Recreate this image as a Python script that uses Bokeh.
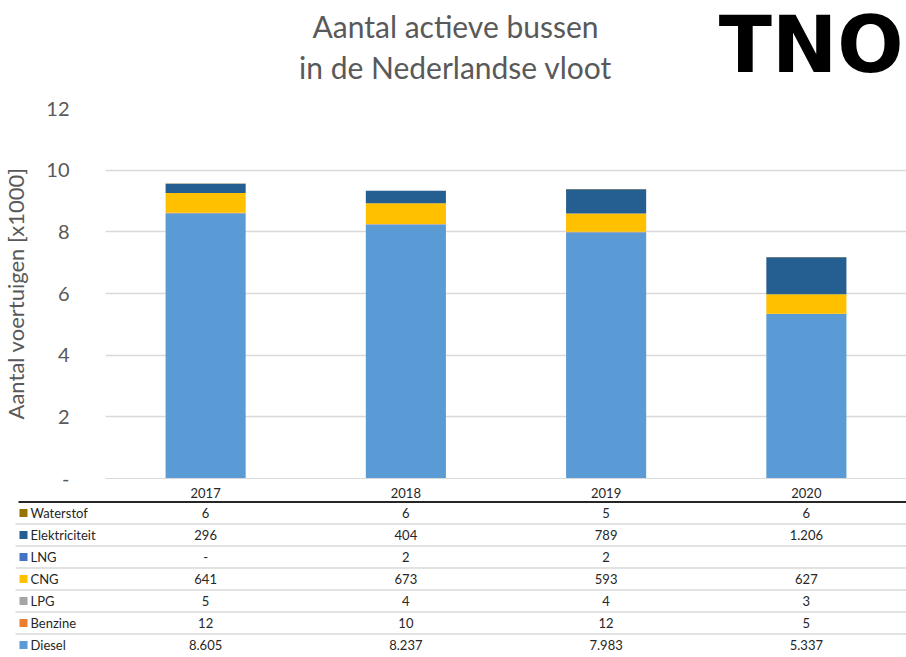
from bokeh.plotting import figure
from bokeh.models import ColumnDataSource, FixedTicker, Range1d, FactorRange, Grid
from bokeh.layouts import column, row
from bokeh.embed import file_html
from bokeh.resources import INLINE
from bokeh.core.properties import value

# ---------------- data ----------------
years = ["2017", "2018", "2019", "2020"]
series = ["Diesel", "Benzine", "LPG", "CNG", "LNG", "Elektriciteit", "Waterstof"]
diesel = [8605, 8237, 7983, 5337]
benzine = [12, 10, 12, 5]
lpg = [5, 4, 4, 3]
cng = [641, 673, 593, 627]
lng = [0, 2, 2, None]
elektriciteit = [296, 404, 789, 1206]
waterstof = [6, 6, 5, 6]
colors = ["#5B9BD5", "#ED7D31", "#A5A5A5", "#FFC000", "#4472C4", "#255E91", "#997300"]
y_ticks = [0, 2, 4, 6, 8, 10, 12]
title_lines = ["Aantal actieve bussen", "in de Nederlandse vloot"]
y_label = "Aantal voertuigen [x1000]"
logo_text = "TNO"

values = {"Diesel": diesel, "Benzine": benzine, "LPG": lpg, "CNG": cng,
          "LNG": lng, "Elektriciteit": elektriciteit, "Waterstof": waterstof}

FONT = "Lato"
W = 906
LEFT = 105
HEADER_H = 92
MAIN_H = 408
TOP_B = 16
BOT_B = 22
TABLE_H = 157
ROW_H = 22.0
TOP_PAD = 1.5

# ---------------- header ----------------
hd = figure(width=W, height=HEADER_H, x_range=Range1d(0, W), y_range=Range1d(HEADER_H, 0),
            min_border=0, toolbar_location=None, output_backend="svg",
            x_axis_location=None, y_axis_location=None)
hd.grid.visible = False
hd.outline_line_color = None
hd.text(x=[455, 455], y=[25, 66], text=title_lines, text_font=value(FONT),
        text_font_size="30px", text_color="#595959", text_align="center",
        text_baseline="middle")
hd.text(x=[W - 3], y=[44], text=[logo_text], text_font=value("DejaVu Sans"),
        text_font_size="78px", text_font_style="bold", text_color="#000000",
        text_align="right", text_baseline="middle")

# ---------------- main chart ----------------
data = {"year": years}
for s in series:
    data[s] = [(v or 0) / 1000 for v in values[s]]
src = ColumnDataSource(data)

yr = Range1d(0, 12)

# y-axis holder (shares the y range of the chart)
ax = figure(width=LEFT, height=MAIN_H, x_range=Range1d(0, 1), y_range=yr,
            toolbar_location=None, output_backend="svg", x_axis_location=None,
            min_border_left=LEFT - 1, min_border_right=0,
            min_border_top=TOP_B, min_border_bottom=BOT_B)
ax.grid.visible = False
ax.outline_line_color = None
ax.yaxis.ticker = FixedTicker(ticks=y_ticks)
ax.yaxis.major_label_overrides = {0: "-"}
ax.yaxis.axis_line_color = None
ax.yaxis.major_tick_line_color = None
ax.yaxis.minor_tick_line_color = None
ax.yaxis.major_label_standoff = 30
ax.yaxis.major_label_text_font = FONT
ax.yaxis.major_label_text_font_size = "20px"
ax.yaxis.major_label_text_color = "#595959"
ax.yaxis.axis_label = y_label
ax.yaxis.axis_label_text_font = FONT
ax.yaxis.axis_label_text_font_size = "22px"
ax.yaxis.axis_label_text_font_style = "normal"
ax.yaxis.axis_label_text_color = "#595959"
ax.yaxis.axis_label_standoff = 14

p = figure(width=W - LEFT, height=MAIN_H, x_range=FactorRange(*years), y_range=yr,
           toolbar_location=None, output_backend="svg", y_axis_location=None,
           min_border_left=0, min_border_right=0, min_border_top=TOP_B,
           min_border_bottom=BOT_B)
p.add_layout(Grid(dimension=1, ticker=FixedTicker(ticks=y_ticks),
                  grid_line_color="#d9d9d9", grid_line_width=1.3))
p.vbar_stack(series, x="year", width=0.4, fill_color=colors, line_color=None, source=src)
p.outline_line_color = None
p.xgrid.grid_line_color = None
p.xaxis.axis_line_color = "#d9d9d9"
p.xaxis.major_tick_line_color = None
p.xaxis.minor_tick_line_color = None
p.xaxis.major_label_standoff = 3
p.xaxis.major_label_text_font = FONT
p.xaxis.major_label_text_font_size = "13px"
p.xaxis.major_label_text_color = "#262626"

# ---------------- table ----------------
unit = (W - LEFT) / len(years)
x0 = -LEFT / unit


def px(x):
    return x0 + x / unit


def fmt(v):
    if v is None:
        return ""
    if v == 0:
        return "-"
    return f"{v:,}".replace(",", ".")


rows = list(reversed(series))
row_colors = list(reversed(colors))
n = len(rows)
pad = TOP_PAD / ROW_H

tb = figure(width=W, height=TABLE_H, x_range=Range1d(x0, len(years)),
            y_range=Range1d(TABLE_H / ROW_H - pad, -pad), min_border=0,
            toolbar_location=None, output_backend="svg",
            x_axis_location=None, y_axis_location=None)
tb.grid.visible = False
tb.outline_line_color = None

tb.segment(x0=[px(15)] * (n - 1), x1=[len(years)] * (n - 1),
           y0=list(range(1, n)), y1=list(range(1, n)),
           line_color="#d9d9d9", line_width=1.3)
tb.segment(x0=[px(18)], x1=[len(years)], y0=[0], y1=[0], line_color="#262626", line_width=2)

ry = [r + 0.5 for r in range(n)]
tb.scatter(x=[px(23)] * n, y=ry, marker="square", size=8,
           fill_color=row_colors, line_color=None)
tb.text(x=[px(30)] * n, y=ry, text=rows, text_font=value(FONT),
        text_font_size="13px", text_color="#262626", text_baseline="middle",
        text_align="left")

tx, ty, tt = [], [], []
for r, s in enumerate(rows):
    for j, y in enumerate(years):
        tx.append(j + 0.5)
        ty.append(r + 0.5)
        tt.append(fmt(values[s][j]))
tb.text(x=tx, y=ty, text=tt, text_font=value(FONT), text_font_size="13px",
        text_color="#262626", text_baseline="middle", text_align="center")

layout = column(hd, row(ax, p, spacing=0), tb, spacing=0)
open("out.html", "w").write(file_html(layout, INLINE))
